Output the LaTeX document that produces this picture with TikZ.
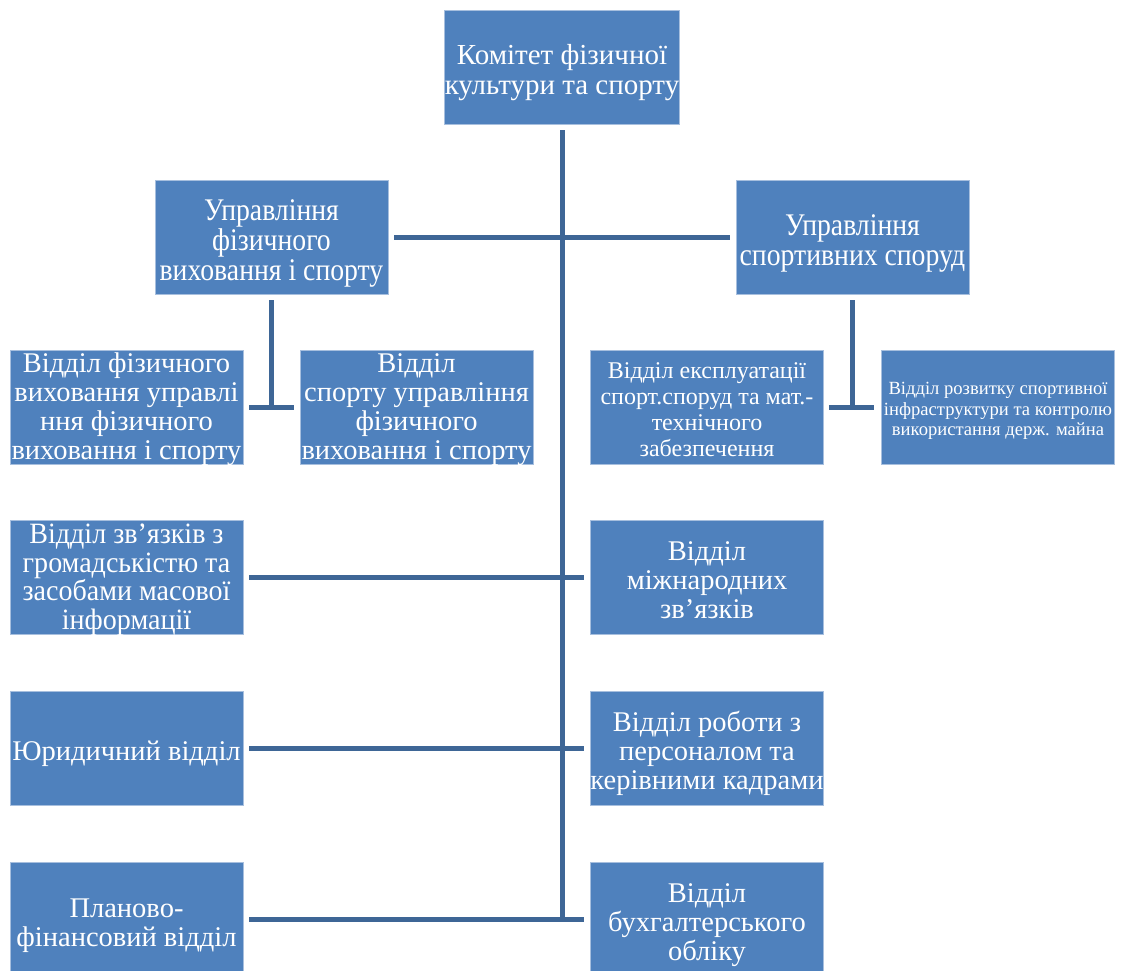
\documentclass[tikz,border=0pt]{standalone}
\usepackage{fontspec}
\setmainfont{Liberation Serif}
\newfontfamily\narrowserif{Liberation Serif}[FakeStretch=0.88]
\newfontfamily\slimserif{Liberation Serif}[FakeStretch=0.95]
% invisible struts giving every text block the full line box of the font
\newcommand\ascstrut{\rule{0pt}{1.1em}}
\newcommand\descstrut{\rule[-0.22em]{0pt}{0.22em}}
\newcommand\lbl[1]{\ascstrut#1\descstrut}
% four-line labels fill the box, so they get a lower top strut
\newcommand\lblfour[1]{\rule{0pt}{0.85em}#1\descstrut}
\begin{document}
\definecolor{boxfill}{HTML}{4F81BD}
\definecolor{boxedge}{HTML}{A7BFDE}
\definecolor{linkcol}{HTML}{3E6696}
\begin{tikzpicture}[x=1pt,y=-1pt,
  unit/.style={rectangle, fill=boxfill, draw=boxedge, line width=0.6pt,
    minimum width=233pt, minimum height=114pt, inner xsep=0pt, inner ysep=-6pt,
    align=center, text=white, font=\fontsize{28.5}{29}\selectfont},
  narrowunit/.style={unit, font=\narrowserif\fontsize{31.5}{30}\selectfont},
  midunit/.style={unit, font=\fontsize{24}{26}\selectfont},
  smallunit/.style={unit, font=\fontsize{18.6}{20.5}\selectfont},
  link/.style={draw=linkcol, line width=5pt}]
\useasboundingbox (0,0) rectangle (1125,971);

% head of the committee
\node[unit, minimum width=234pt, font=\fontsize{29}{30}\selectfont] (head) at (562,67) {\lbl{Комітет фізичної\\культури та спорту}};

% two directorates
\node[narrowunit] (dirL) at (271.5,237) {\lbl{Управління\\фізичного\\виховання і спорту}};
\node[narrowunit] (dirR) at (852.5,237) {\lbl{Управління\\спортивних споруд}};

% departments of the directorates
\node[unit] (pe) at (126.5,407) {\lblfour{Відділ фізичного\\виховання управлі\\ння фізичного\\виховання і спорту}};
\node[unit] (sp) at (416.5,407) {\lblfour{Відділ\\спорту управління\\фізичного\\виховання і спорту}};
\node[midunit] (ops) at (707,407) {\lbl{Відділ експлуатації\\спорт.споруд та мат.-\\технічного\\забезпечення}};
\node[smallunit] (infra) at (998,407) {\lbl{Відділ розвитку спортивної\\інфраструктури та контролю\\використання держ. майна}};

% departments under the head
\node[unit, font=\slimserif\fontsize{29.5}{28.5}\selectfont] (pr) at (126.5,577) {\lblfour{Відділ зв’язків з\\громадськістю та\\засобами масової\\інформації}};
\node[unit] (intl) at (707,577) {\lbl{Відділ\\міжнародних\\зв’язків}};
\node[unit] (legal) at (126.5,748) {\lbl{Юридичний відділ}};
\node[unit] (hr) at (707,748) {\lbl{Відділ роботи з\\персоналом та\\керівними кадрами}};
\node[unit] (plan) at (126.5,919) {\lbl{Планово-\\фінансовий відділ}};
\node[unit] (acc) at (707,919) {\lbl{Відділ\\бухгалтерського\\обліку}};

% connectors
\coordinate (spineEnd) at (head.south |- 0,919.5);
\draw[link, shorten <=6pt] (head.south) -- (spineEnd);
\draw[link, shorten <=6pt, shorten >=6pt] (dirL.east) -- (dirR.west);
\draw[link, shorten <=6pt, shorten >=6pt] (pr.east) -- (intl.west);
\draw[link, shorten <=6pt, shorten >=6pt] (legal.east) -- (hr.west);
\draw[link, shorten <=6pt, shorten >=6pt] (plan.east) -- (acc.west);

\coordinate (jL) at (dirL.south |- pe.east);
\draw[link, shorten <=6pt] (dirL.south) -- (jL);
\draw[link, shorten <=6pt, shorten >=6pt] (pe.east) -- (sp.west);
\coordinate (jR) at (dirR.south |- ops.east);
\draw[link, shorten <=6pt] (dirR.south) -- (jR);
\draw[link, shorten <=5pt, shorten >=7pt] (ops.east) -- (infra.west);
\end{tikzpicture}
\end{document}
